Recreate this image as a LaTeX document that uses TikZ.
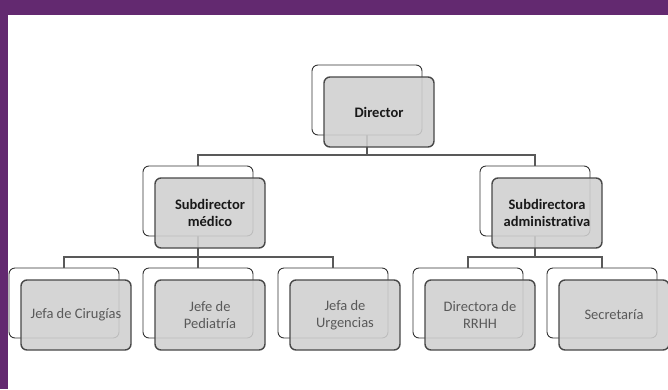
\documentclass[tikz,border=0pt]{standalone}
\usepackage{fontspec}
\setmainfont[Ligatures=NoCommon]{Carlito}
\definecolor{marco}{RGB}{99,41,112}
\definecolor{caja}{RGB}{208,208,208}
\definecolor{borde}{RGB}{72,72,72}
\begin{document}
\begin{tikzpicture}[x=1pt,y=-1pt,
  fondo/.style={draw=black!80,fill=white,rounded corners=6pt,line width=0.9pt,
    minimum width=110pt,minimum height=70pt,inner sep=0pt,outer sep=0pt},
  frente/.style={fondo,draw=borde,fill=caja,fill opacity=0.88,text opacity=1,
    line width=1.4pt,align=center,font=\fontsize{14.5}{16.5}\selectfont,text=black!65},
  jefe/.style={font=\bfseries\fontsize{14.5}{16.5}\selectfont,text=black!90},
  enlace/.style={draw=black!65,line width=1.2pt}]
  \useasboundingbox (0,0) rectangle (668,389);
  \fill[white] (0,0) rectangle (668,389);
  \fill[marco] (0,0) rectangle (668,15);
  \fill[marco] (0,0) rectangle (8,389);
  % cajas de fondo
  \foreach \n/\x/\y in {dir/367/100,med/198/201,adm/535/201,cir/64/303,
                        ped/198/303,urg/333/303,rrhh/468/303,sec/602/303}
    \node[fondo] (\n-b) at (\x,\y) {};
  % lineas
  \coordinate (bus1) at (0,155);
  \coordinate (bus2) at (0,257);
  \foreach \n in {med,adm}
    \draw[enlace] (dir-b.south) -- (dir-b.south |- bus1) -| (\n-b.north);
  \foreach \n in {cir,ped,urg}
    \draw[enlace] (med-b.south) -- (med-b.south |- bus2) -| (\n-b.north);
  \foreach \n in {rrhh,sec}
    \draw[enlace] (adm-b.south) -- (adm-b.south |- bus2) -| (\n-b.north);
  % cajas del frente
  \node[frente,jefe] (dir) at (379,112) {Director};
  \node[frente,jefe] (med) at (210,213) {Subdirector\\médico};
  \node[frente,jefe] (adm) at (547,213) {Subdirectora\\administrativa};
  \node[frente] (cir)  at ( 76,315) {Jefa de Cirugías};
  \node[frente] (ped)  at (210,315) {Jefe de\\Pediatría};
  \node[frente] (urg)  at (345,315) {Jefa de\\Urgencias};
  \node[frente] (rrhh) at (480,315) {Directora de\\RRHH};
  \node[frente] (sec)  at (614,315) {Secretaría};
\end{tikzpicture}
\end{document}
